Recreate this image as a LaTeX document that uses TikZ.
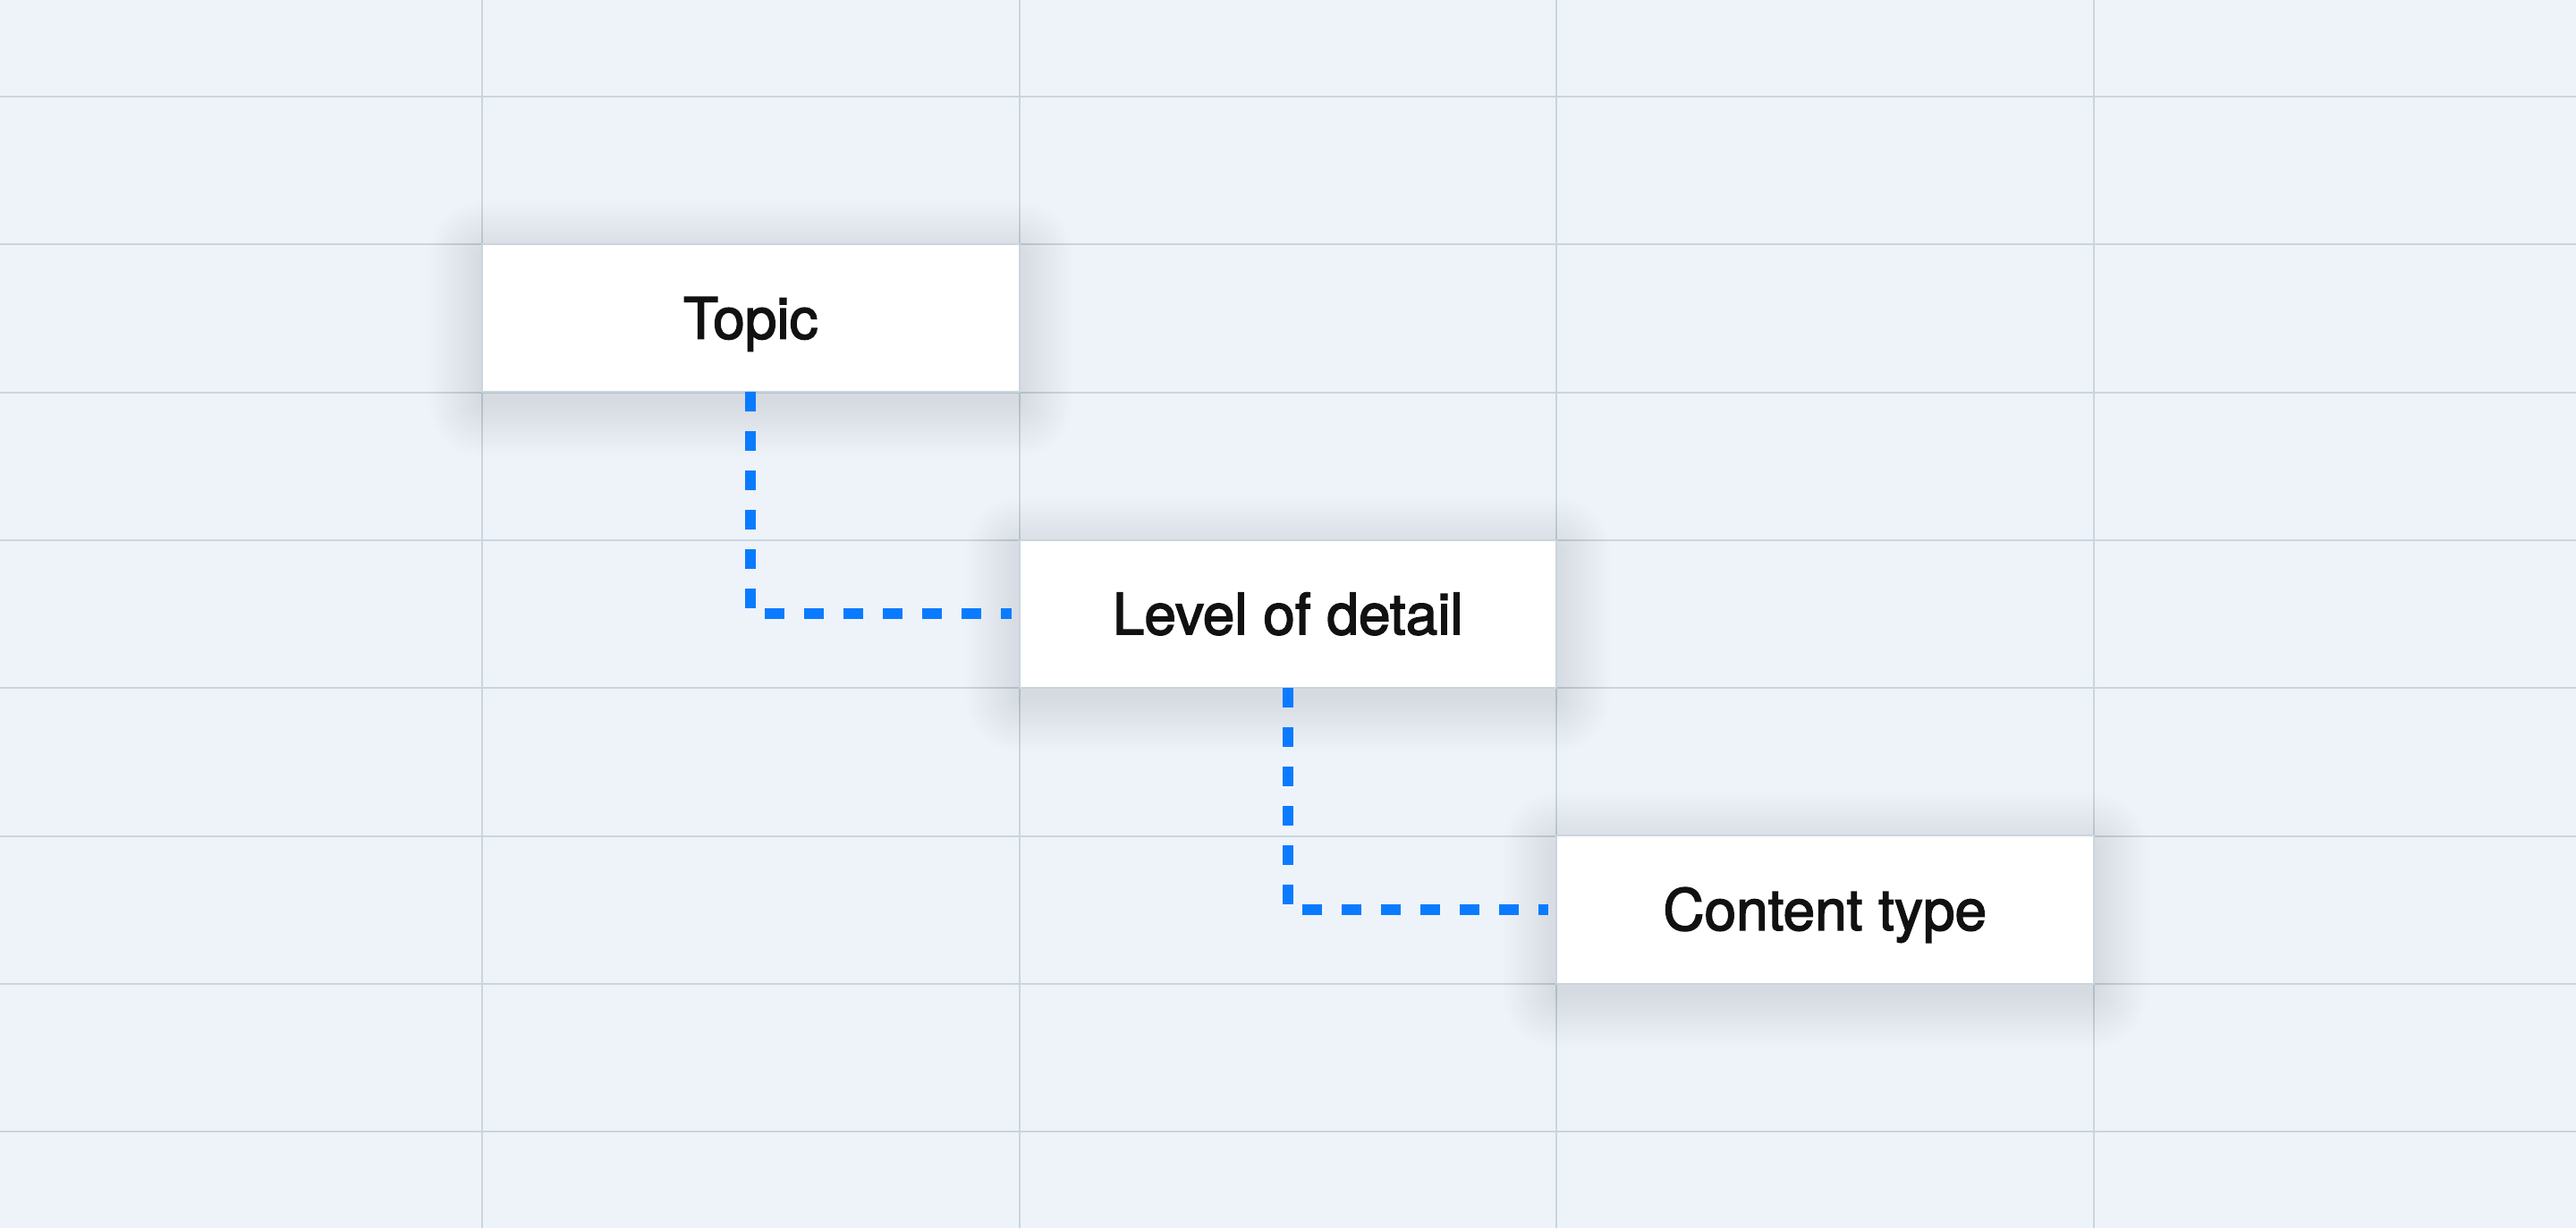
\documentclass[tikz,border=0pt]{standalone}
\usepackage{fontspec}
\setmainfont{TeX Gyre Heros}
\newfontfamily\cardfont[FakeBold=2.3]{TeX Gyre Heros}
\usepackage{tikz}
\usetikzlibrary{positioning}

\definecolor{bgpaper}{HTML}{EEF3FA}
\definecolor{gridcol}{HTML}{CAD5DD}
\definecolor{linkblue}{HTML}{0A7BFF}
\definecolor{inkcol}{HTML}{111111}
\definecolor{shadecol}{HTML}{34475A}

\pgfdeclarelayer{paper}
\pgfdeclarelayer{shade}
\pgfsetlayers{paper,shade,main}

% soft shadow under a card
\newcommand{\cardshade}[1]{%
	\begin{pgfonlayer}{shade}
		\foreach \k in {1,...,24}
			\fill[shadecol,fill opacity=0.004,rounded corners={0.025cm*\k}]
				([shift={(-0.025*\k,-0.12-0.025*\k)}]#1.south west) rectangle ([shift={(0.025*\k,-0.12+0.025*\k)}]#1.north east);
	\end{pgfonlayer}}

\begin{document}
\begin{tikzpicture}[
	gridline/.style={draw=gridcol,line width=0.02cm},
	card/.style={rectangle,fill=white,draw=gridcol,line width=0.02cm,outer sep=0pt,
		minimum width=6.005cm,minimum height=1.653cm,inner sep=0pt,
		text height=0.46cm,text depth=0pt,text=inkcol,
		font=\cardfont\fontsize{18.2pt}{22pt}\selectfont},
	link/.style={draw=linkblue,line width=0.12cm,dash pattern=on 0.22cm off 0.22cm}]
			%paper and size
			\useasboundingbox (0,0) rectangle (28.8,13.73);
			\begin{pgfonlayer}{paper}
			\fill[bgpaper] (0,0) rectangle (28.8,13.73);
			%grid
			\foreach \i in {0,...,3}
				\draw[gridline] ({5.39+6.005*\i},0)--({5.39+6.005*\i},13.73);
			\foreach \j in {0,...,7}
				\draw[gridline] (0,{12.65-1.653*\j})--(28.8,{12.65-1.653*\j});
			\end{pgfonlayer}
			%cards
			\node[card] (topic) at (8.3925,10.1735) {Topic};
			\node[card,below right=1.653cm and 0cm of topic] (detail) {Level of detail};
			\node[card,below right=1.653cm and 0cm of detail] (ctype) {Content type};
			\cardshade{topic}
			\cardshade{detail}
			\cardshade{ctype}
			%dashed links
			\draw[link,shorten >=0.09cm] (topic.south)|-(detail.west);
			\draw[link,shorten >=0.09cm] (detail.south)|-(ctype.west);

		\end{tikzpicture}
\end{document}
